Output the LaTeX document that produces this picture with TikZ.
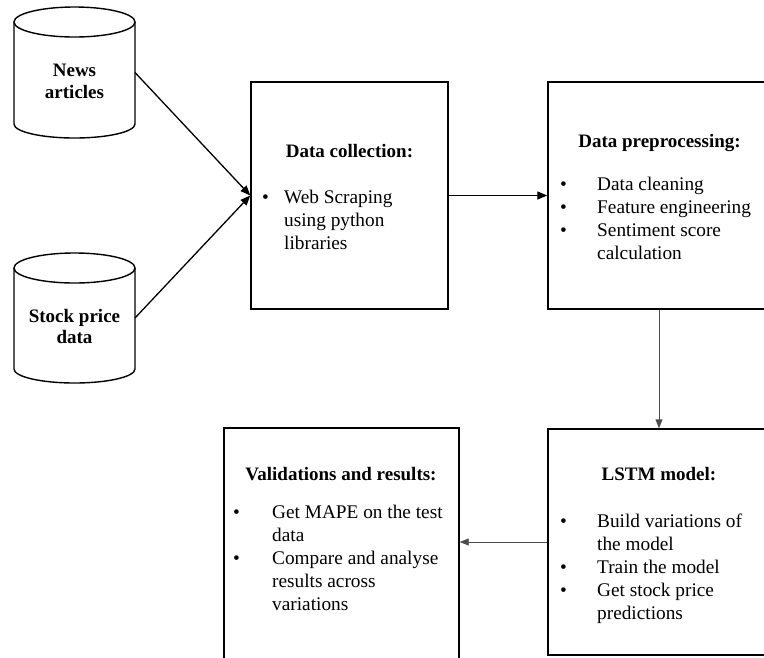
\documentclass[tikz,border=0pt]{standalone}
\usepackage{fontspec}
\setmainfont{Liberation Serif}
\usetikzlibrary{arrows.meta,calc}
\begin{document}
\begin{tikzpicture}[x=1pt,y=-1pt,
  boxline/.style={draw=black,line width=1.4pt},
  stagebox/.style={boxline,rectangle,inner sep=0pt,fill=none},
  body/.style={rectangle,inner sep=0pt,outer sep=0pt},
  head/.style={font=\fontsize{19}{23}\selectfont\bfseries,anchor=base,inner sep=0pt},
  cyltext/.style={font=\fontsize{19}{22}\selectfont\bfseries,anchor=base,inner sep=0pt},
  lst/.style={font=\fontsize{19.3}{23}\selectfont,anchor=base west,inner sep=0pt},
  blackarrow/.style={line width=1.3pt,-{Triangle[length=10pt,width=8pt]}},
  grayarrow/.style={draw=black!70,line width=0.9pt,-{Triangle[length=9pt,width=7pt]}}
]
\useasboundingbox (0,0) rectangle (764,657);
\clip (0,0) rectangle (764,657);

% cylinders (bodies)
\node[body,minimum width=121pt,minimum height=131pt] (news) at (74.5,72.5) {};
\node[body,minimum width=121pt,minimum height=130pt] (stock) at (74.5,318) {};
\foreach \c/\bot in {news/14pt,stock/14pt}{
  \draw[boxline] ([yshift=-15pt]\c.north) ellipse [x radius=60.5pt, y radius=15pt];
  \draw[boxline] ([yshift=-15pt]\c.north west) -- ([yshift=\bot]\c.south west)
     arc[start angle=180,end angle=360,x radius=60.5pt,y radius=\bot]
     -- ([yshift=-15pt]\c.north east);
}
\node[cyltext] (newsA) at (74.5,76) {News};
\node[cyltext] (newsB) at (74.5,98) {articles};
\node[cyltext] (stockA) at (74.5,322) {Stock price};
\node[cyltext] (stockB) at (74.5,343) {data};

% stage boxes
\node[stagebox,minimum width=197pt,minimum height=227pt] (dc) at (349.5,195.5) {};
\node[stagebox,minimum width=222pt,minimum height=227pt] (pp) at (659,195.5) {};
\node[stagebox,minimum width=222pt,minimum height=226pt] (lstm) at (659,542) {};
\node[stagebox,minimum width=235pt,minimum height=234pt] (val) at (341.5,545) {};

% headings
\node[head] (dch) at (349.5,157) {Data collection:};
\node[head] (pph) at (659.5,147) {Data preprocessing:};
\node[head] (lstmh) at (659,480) {LSTM model:};
\node[head] (valh) at (341,480) {Validations and results:};

% lists
\node[lst] (dcl) at (262,203) {\begin{tabular}[t]{@{}p{22pt}@{}l@{}}
\textbullet & Web Scraping\\ & using python\\ & libraries\end{tabular}};
\node[lst] (ppl) at (560,190) {\begin{tabular}[t]{@{}p{37pt}@{}l@{}}
\textbullet & Data cleaning\\ \textbullet & Feature engineering\\
\textbullet & Sentiment score\\ & calculation\end{tabular}};
\node[lst] (lstml) at (560,527) {\begin{tabular}[t]{@{}p{37pt}@{}l@{}}
\textbullet & Build variations of\\ & the model\\
\textbullet & Train the model\\ \textbullet & Get stock price\\ & predictions\end{tabular}};
\node[lst] (vall) at (233,518) {\begin{tabular}[t]{@{}p{39pt}@{}l@{}}
\textbullet & Get MAPE on the test\\ & data\\
\textbullet & Compare and analyse\\ & results across\\ & variations\end{tabular}};

% connectors
\draw[blackarrow] (news.east) -- (dc.west);
\draw[blackarrow] (stock.east) -- (dc.west);
\draw[blackarrow] (dc.east) -- (pp.west);
\draw[grayarrow] (pp.south) -- (lstm.north);
\draw[grayarrow] (lstm.west) -- (lstm.west -| val.east);
\end{tikzpicture}
\end{document}
